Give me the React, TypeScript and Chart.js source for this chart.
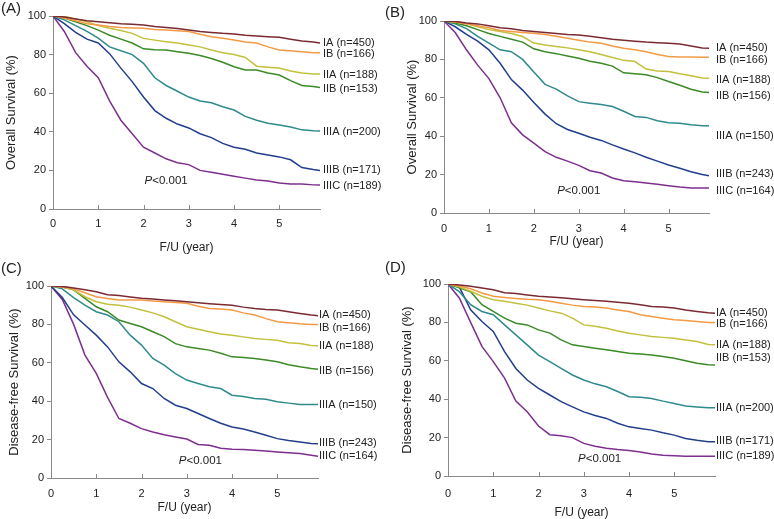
import React, { useEffect, useRef } from "react";
import { Chart, registerables } from "chart.js";

Chart.register(...registerables);

// ---------- data ----------
const years = [0, 0.25, 0.5, 0.75, 1, 1.25, 1.5, 1.75, 2, 2.25, 2.5, 2.75, 3, 3.25, 3.5, 3.75, 4, 4.25, 4.5, 4.75, 5, 5.25, 5.5, 5.75, 5.9];
const stages = ["IA", "IB", "IIA", "IIB", "IIIA", "IIIB", "IIIC"];
const xTickValues = [0, 1, 2, 3, 4, 5];
const yTickValues = [0, 20, 40, 60, 80, 100];

// (A) Overall survival
const osA_IA = [100, 99.5, 98.5, 97.5, 97, 96.5, 96, 95.7, 95.3, 94.5, 94, 93.5, 92.7, 92, 91.5, 91, 90.7, 90, 89.6, 89.3, 89, 88, 87, 86.5, 86];
const osA_IB = [100, 99, 97.5, 96, 95.3, 94.5, 94, 93.8, 93.6, 93, 92.7, 92.3, 92, 90.5, 89.3, 88.5, 87.6, 86.5, 86, 84, 82.4, 82, 81.5, 81, 81];
const osA_IIA = [100, 99.8, 98.5, 97, 95, 93.6, 92.5, 91, 88.4, 87.5, 86.7, 86, 85, 84, 82.4, 81, 80, 78.5, 74, 73.5, 73, 71.5, 70.5, 70, 70];
const osA_IIB = [100, 99, 97, 95, 92.7, 90, 88, 86, 83, 82.5, 82.4, 81.5, 80.7, 79.5, 78, 76, 73.7, 72, 72, 70.5, 69.4, 66.5, 64, 63.5, 63];
const osA_IIIA = [100, 98, 95, 92, 88.5, 84, 82, 80, 75.5, 68, 64, 61, 58, 56, 55, 53, 51.3, 48, 46, 44.4, 43.5, 42.5, 41, 40.5, 40.4];
const osA_IIIB = [100, 96, 91.5, 88, 86, 80.5, 73, 66, 58, 51, 47, 44, 42, 39, 37, 34, 32, 31, 29, 28, 27, 25.5, 21.5, 20.5, 20];
const osA_IIIC = [100, 92, 81, 74, 68, 56, 46, 39, 32, 29, 26, 24, 23, 20, 19, 18, 17, 16, 15, 14.5, 13.5, 13, 13, 12.5, 12.4];
const countsA = [450, 166, 188, 153, 200, 171, 189];
const labelAtA = [86.2, 80.1, 69.4, 62, 40, 20.2, 12.1];

// (B) Overall survival
const osB_IA = [100, 99.8, 99, 98.5, 97.5, 96.5, 96, 95, 94.5, 94, 93.5, 93, 92.7, 92, 91.3, 90.5, 90, 89.5, 89, 88.7, 88.4, 88, 87, 86, 85.8];
const osB_IB = [100, 99.5, 98.5, 97.5, 96.5, 95, 94.5, 94, 93.6, 93, 92, 91, 90, 89, 88.4, 87, 85.8, 85, 84, 82.5, 81.5, 81.3, 81.2, 81.1, 81.1];
const osB_IIA = [100, 99.5, 98.5, 97, 95.5, 94.5, 93.5, 91.9, 88.5, 87.5, 86.7, 86, 85, 84, 82.5, 81, 79.5, 78.9, 75, 74, 73.7, 72.5, 71.5, 70.3, 70.2];
const osB_IIB = [100, 99, 97.5, 95.5, 93.5, 92, 90.5, 89, 85.5, 84, 83, 81.8, 80.6, 79, 78, 76.5, 73, 72.5, 72, 70.5, 68.5, 66.5, 64.5, 63, 62.7];
const osB_IIIA = [100, 98.5, 96, 92, 88.5, 85, 84, 80, 73.5, 67, 64.5, 61, 58, 57.2, 56.5, 55.5, 53, 50.3, 49.8, 48, 47, 46.8, 46, 45.5, 45.4];
const osB_IIIB = [100, 97, 93, 89.5, 85, 78, 69.5, 64, 57.5, 51.5, 46.5, 43.5, 41.5, 39.5, 37.8, 35.5, 33.3, 31.3, 29, 27, 25, 23.3, 21.5, 20, 19.4];
const osB_IIIC = [100, 94, 85, 77, 70, 60, 47, 40.7, 36.4, 32, 29, 27, 24.8, 22, 20.8, 18.2, 16.8, 16.3, 15.6, 15, 14.2, 13.5, 13, 13, 13];
const countsB = [450, 166, 188, 156, 150, 243, 164];
const labelAtB = [86.1, 79.7, 69.3, 60.7, 40.2, 20.4, 11.6];

// (C) Disease-free survival
const dfsC_IA = [100, 99.8, 99, 98, 97, 95.5, 95, 94.3, 93.6, 93.2, 92.7, 92.3, 91.8, 91.3, 90.8, 90.4, 90, 89, 88.3, 87.8, 87.5, 86.6, 85.7, 84.9, 84.5];
const dfsC_IB = [100, 99.5, 98.5, 96.5, 94.4, 93.5, 92.7, 92.7, 92.7, 92.2, 91.8, 91.4, 91, 89.5, 88.3, 88, 87.5, 86, 84.9, 83, 81.4, 80.8, 80.3, 80, 80];
const dfsC_IIA = [100, 99.5, 98, 94.4, 91.8, 90.5, 90, 89, 87.5, 86, 84, 81.4, 78.8, 77.5, 76.2, 75, 74.4, 73.5, 72.7, 72.2, 71.8, 70.5, 70, 69, 68.9];
const dfsC_IIB = [100, 99.5, 98, 93.6, 89.2, 86.6, 82.3, 80.5, 78.8, 76.2, 73.6, 70, 68.3, 67.5, 66.6, 65, 63.1, 62.8, 62.3, 61.5, 60.5, 59, 57.9, 57, 56.7];
const dfsC_IIIA = [100, 98.5, 94, 90, 86.6, 84.9, 81.4, 74.4, 69.2, 62.3, 58.8, 54.4, 51, 49.2, 47.5, 46.6, 43.1, 42.5, 41.4, 41, 39.7, 39, 38.3, 38.3, 38.3];
const dfsC_IIIB = [100, 94, 85, 79.7, 74.4, 68.3, 60.5, 55.3, 49.2, 46.6, 41.4, 37.9, 36.2, 33.6, 31, 28.5, 26.6, 25.5, 24, 22.3, 20.5, 19.5, 18.8, 18, 17.9];
const dfsC_IIIC = [100, 93, 80, 64, 54.5, 42, 31, 28.5, 25.7, 24, 22.5, 21.4, 20.3, 17.5, 17, 15.5, 15, 14.8, 14.4, 14, 13.6, 13.2, 12.7, 11.8, 11.3];
const countsC = [450, 166, 188, 156, 150, 243, 164];
const labelAtC = [84.9, 78.3, 68.9, 55.7, 37.9, 18.3, 11.3];

// (D) Disease-free survival
const dfsD_IA = [100, 99.5, 98.8, 97.9, 97, 95.5, 95, 94.3, 93.6, 93.2, 92.8, 92.3, 91.8, 91.4, 91, 90.5, 90, 89.2, 88.3, 88, 87.5, 86.5, 85.7, 85, 84.7];
const dfsD_IB = [100, 99, 97.5, 95.3, 93.6, 93, 92.5, 92, 91.8, 91, 90, 89, 88.3, 88, 87.5, 86.5, 85.7, 84, 83.1, 82.2, 81.4, 81, 80.5, 80, 80];
const dfsD_IIA = [100, 98.5, 96.2, 93.6, 91.8, 91, 90, 89, 87.5, 86, 84.8, 82.2, 78.7, 78, 77, 75.5, 74.4, 73.5, 72.6, 72.2, 71.8, 70.8, 70, 68.5, 68.3];
const dfsD_IIB = [100, 98, 96, 89.2, 85.7, 82.2, 79.6, 78.7, 76.1, 74.4, 70.9, 68.3, 67.4, 66.5, 65.7, 64.8, 63.9, 63.5, 63, 62.2, 61.3, 60, 58.7, 58, 57.8];
const dfsD_IIIA = [100, 96, 89.2, 85.7, 84, 78.7, 73.5, 68.3, 63, 59.6, 56, 52.6, 50, 48, 46.5, 44, 41.3, 41, 40.4, 39, 37.8, 36.5, 36, 35.5, 35.5];
const dfsD_IIIB = [100, 98.5, 86.6, 80.5, 75.3, 64.8, 56, 50, 45.6, 42.2, 38.7, 36, 33.4, 31.5, 30, 27.5, 25.6, 24.8, 23.9, 22.5, 21.3, 19.5, 18.6, 17.9, 17.8];
const dfsD_IIIC = [100, 92.7, 80, 67.5, 59.6, 51, 39, 33.5, 26, 21.5, 21, 20, 17, 15.5, 14.5, 13.8, 13.3, 12.5, 11.5, 10.8, 10.5, 10.3, 10.3, 10.3, 10.3];
const countsD = [450, 166, 188, 153, 200, 171, 189];
const labelAtD = [84.7, 79.1, 68.3, 61.3, 35.5, 18.1, 10.3];

// p-value annotation anchor (data units) per panel
const pAtA = [2.5, 14.5];
const pAtB = [3.0, 11.5];
const pAtC = [3.3, 8.9];
const pAtD = [3.35, 8.7];

// ---------- styles ----------
const colors = ["#7b2a32", "#f39a45", "#c2c03c", "#3b8a27", "#2f8a8c", "#223e8c", "#7d2f8e"];
const axisColor = "#8a8a8a";
const textColor = "#222222";
const FONT = '"Liberation Sans", Arial, sans-serif';

type PanelProps = {
  letter: string;
  left: number;
  top: number;
  width: number;
  height: number;
  area: { l: number; t: number; r: number; b: number };
  yTitle: string;
  series: number[][];
  counts: number[];
  labelAt: number[];
  pAt: number[];
  labelOffset: number;
  xTickPad: number;
  xTitlePad: number;
  yTitlePad: number;
  letterY: number;
};

function Panel(p: PanelProps) {
  const ref = useRef<HTMLCanvasElement | null>(null);
  useEffect(() => {
    if (!ref.current) return;
    const overlay = {
      id: "overlay" + p.letter,
      afterDraw(chart: any) {
        const { ctx, chartArea } = chart;
        const x = chart.scales.x;
        const y = chart.scales.y;
        ctx.save();
        // inside tick marks on x axis
        ctx.strokeStyle = axisColor;
        ctx.lineWidth = 1;
        for (const t of x.ticks) {
          const px = Math.round(x.getPixelForValue(t.value)) + 0.5;
          ctx.beginPath();
          ctx.moveTo(px, chartArea.bottom);
          ctx.lineTo(px, chartArea.bottom - 4);
          ctx.stroke();
        }
        // series labels
        ctx.fillStyle = textColor;
        ctx.font = "11px " + FONT;
        ctx.textBaseline = "middle";
        ctx.textAlign = "left";
        stages.forEach((s, i) => {
          ctx.fillText(`${s} (n=${p.counts[i]})`, chartArea.right + p.labelOffset, y.getPixelForValue(p.labelAt[i]));
        });
        // P<0.001
        const cx = x.getPixelForValue(p.pAt[0]);
        const cy = y.getPixelForValue(p.pAt[1]);
        ctx.font = "italic 11.5px " + FONT;
        const w1 = ctx.measureText("P").width;
        ctx.font = "11.5px " + FONT;
        const w2 = ctx.measureText("<0.001").width;
        const sx = cx - (w1 + w2) / 2;
        ctx.font = "italic 11.5px " + FONT;
        ctx.fillText("P", sx, cy);
        ctx.font = "11.5px " + FONT;
        ctx.fillText("<0.001", sx + w1, cy);
        // panel letter
        ctx.font = "15px " + FONT;
        ctx.fillText(`(${p.letter})`, 1, p.letterY);
        ctx.restore();
      },
    };
    const chart = new Chart(ref.current, {
      type: "line",
      data: {
        labels: years,
        datasets: p.series.map((vals, i) => ({
          label: stages[i],
          data: vals.map((v, j) => ({ x: years[j], y: v })),
          borderColor: colors[i],
          backgroundColor: colors[i],
          borderWidth: 1.5,
          pointRadius: 0,
          tension: 0,
          fill: false,
        })),
      },
      options: {
        animation: false,
        responsive: false,
        maintainAspectRatio: false,
        layout: {
          padding: { left: 0, top: p.area.t, right: p.width - p.area.r, bottom: 0 },
        },
        plugins: {
          legend: { display: false },
          tooltip: { enabled: false },
        },
        scales: {
          x: {
            type: "linear",
            min: 0,
            max: 5.9,
            afterFit: (s: any) => {
              s.height = p.height - p.area.b;
            },
            afterBuildTicks: (s: any) => {
              s.ticks = xTickValues.map((v) => ({ value: v }));
            },
            ticks: {
              color: textColor,
              font: { family: FONT, size: 11 },
              padding: p.xTickPad,
              maxRotation: 0,
              autoSkip: false,
            },
            grid: { display: false },
            border: { display: true, color: axisColor, width: 1 },
            title: {
              display: true,
              text: "F/U (year)",
              color: textColor,
              font: { family: FONT, size: 12, lineHeight: 1 },
              padding: { top: 0, bottom: p.xTitlePad },
            },
          },
          y: {
            type: "linear",
            min: 0,
            max: 100,
            afterFit: (s: any) => {
              s.width = p.area.l;
            },
            afterBuildTicks: (s: any) => {
              s.ticks = yTickValues.map((v) => ({ value: v }));
            },
            ticks: {
              color: textColor,
              font: { family: FONT, size: 11 },
              padding: 3,
            },
            grid: {
              display: true,
              drawOnChartArea: false,
              drawTicks: true,
              tickLength: 4,
              color: axisColor,
            },
            border: { display: true, color: axisColor, width: 1 },
            title: {
              display: true,
              text: p.yTitle,
              color: textColor,
              font: { family: FONT, size: 13, lineHeight: 1 },
              padding: { top: p.yTitlePad, bottom: 0 },
            },
          },
        },
      },
      plugins: [overlay],
    } as any);
    return () => chart.destroy();
  }, []);
  return (
    <canvas
      ref={ref}
      width={p.width}
      height={p.height}
      style={{ position: "absolute", left: p.left, top: p.top, width: p.width, height: p.height }}
    />
  );
}

export default function App() {
  return (
    <div style={{ position: "absolute", left: 0, top: 0, width: 774, height: 519, background: "#ffffff", overflow: "hidden" }}>
      <Panel
        letter="A" left={0} top={0} width={384} height={258}
        area={{ l: 53, t: 16, r: 320, b: 209 }}
        yTitle="Overall Survival (%)"
        series={[osA_IA, osA_IB, osA_IIA, osA_IIB, osA_IIIA, osA_IIIB, osA_IIIC]}
        counts={countsA} labelAt={labelAtA} pAt={pAtA}
        labelOffset={3} xTickPad={0} xTitlePad={4} yTitlePad={5} letterY={9}
      />
      <Panel
        letter="B" left={384} top={0} width={390} height={258}
        area={{ l: 60, t: 21, r: 325, b: 213 }}
        yTitle="Overall Survival (%)"
        series={[osB_IA, osB_IB, osB_IIA, osB_IIB, osB_IIIA, osB_IIIB, osB_IIIC]}
        counts={countsB} labelAt={labelAtB} pAt={pAtB}
        labelOffset={7} xTickPad={1} xTitlePad={10} yTitlePad={22} letterY={13}
      />
      <Panel
        letter="C" left={0} top={258} width={384} height={261}
        area={{ l: 51, t: 28, r: 318, b: 220 }}
        yTitle="Disease-free Survival (%)"
        series={[dfsC_IA, dfsC_IB, dfsC_IIA, dfsC_IIB, dfsC_IIIA, dfsC_IIIB, dfsC_IIIC]}
        counts={countsC} labelAt={labelAtC} pAt={pAtC}
        labelOffset={1} xTickPad={1} xTitlePad={5} yTitlePad={8} letterY={11}
      />
      <Panel
        letter="D" left={384} top={258} width={390} height={261}
        area={{ l: 64, t: 26, r: 331, b: 218 }}
        yTitle="Disease-free Survival (%)"
        series={[dfsD_IA, dfsD_IB, dfsD_IIA, dfsD_IIB, dfsD_IIIA, dfsD_IIIB, dfsD_IIIC]}
        counts={countsD} labelAt={labelAtD} pAt={pAtD}
        labelOffset={1} xTickPad={3} xTitlePad={0} yTitlePad={17} letterY={10}
      />
    </div>
  );
}
